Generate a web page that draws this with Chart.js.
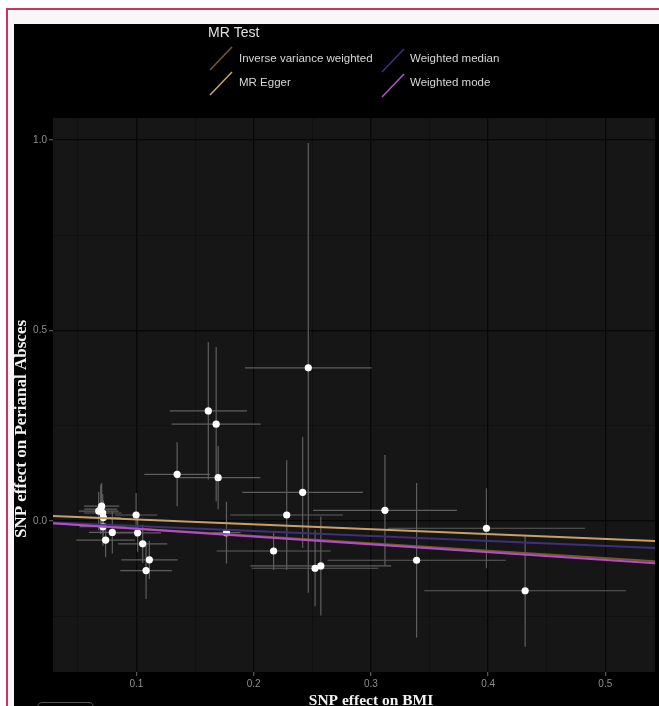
<!DOCTYPE html>
<html>
<head>
<meta charset="utf-8">
<script src="https://cdn.jsdelivr.net/npm/chart.js@4.4.0/dist/chart.umd.min.js"></script>
<style>
    html, body { margin: 0; padding: 0; width: 100%; height: 100%; overflow: hidden; background: #fff; }
    #paper { position: absolute; left: 8px; top: 10px; right: 0; bottom: 0; background: #f8f6f7; }
    #lineTop { position: absolute; left: 6px; top: 8px; right: 0; height: 2px; background: #c8365a; }
    #lineLeft { position: absolute; left: 6px; top: 8px; bottom: 0; width: 2px; background: #c8365a; }
    #dark { position: absolute; left: 14px; top: 24px; right: 0; bottom: 0; background: #000; }
    #btn { position: absolute; left: 37px; top: 702px; width: 55px; height: 12px; border: 1px solid #555; border-radius: 5px; }
    #plot { position: absolute; left: 0; top: 0; }
</style>
</head>
<body>
<div id="paper"></div>
<div id="lineTop"></div>
<div id="lineLeft"></div>
<div id="dark"></div>
<div id="btn"></div>
<canvas id="plot"></canvas>

<script>
// ========== 데이터 ==========
// SNP effect on BMI (x) / on perianal abscess (y), half-width of the error bars
const snpBetaBMI = [0.2466, 0.1613, 0.1680, 0.1347, 0.1697, 0.2418, 0.2282, 0.3120, 0.2524, 0.2573,
                    0.2170, 0.1768, 0.3390, 0.3986, 0.4316, 0.0997, 0.1010, 0.1053, 0.1110, 0.1082,
                    0.0794, 0.0737, 0.0714, 0.0703, 0.0678, 0.0712, 0.0695, 0.0718];
const snpBetaPA  = [0.402, 0.289, 0.254, 0.1225, 0.1137, 0.0753, 0.0157, 0.028, -0.124, -0.118,
                    -0.0787, -0.0306, -0.103, -0.019, -0.183, 0.0157, -0.031, -0.060, -0.102, -0.130,
                    -0.030, -0.050, -0.015, 0.039, 0.026, 0.021, 0.031, 0.009];
const errBMI     = [0.054, 0.033, 0.038, 0.028, 0.036, 0.0515, 0.048, 0.0615, 0.054, 0.060,
                    0.0487, 0.012, 0.076, 0.084, 0.086, 0.018, 0.020, 0.021, 0.024, 0.022,
                    0.020, 0.025, 0.020, 0.015, 0.017, 0.016, 0.014, 0.015];
const errPA      = [0.59, 0.18, 0.203, 0.084, 0.083, 0.146, 0.144, 0.145, 0.10, 0.13,
                    0.05, 0.081, 0.203, 0.105, 0.147, 0.058, 0.050, 0.050, 0.050, 0.075,
                    0.055, 0.045, 0.050, 0.060, 0.050, 0.050, 0.065, 0.045];

const methods         = ['Inverse variance weighted', 'MR Egger', 'Weighted median', 'Weighted mode'];
const methodIntercept = [0, 0.0168, 0, 0];
const methodSlope     = [-0.195, -0.128, -0.131, -0.205];
const methodColors    = ['#7a5532', '#c9a06a', '#3f2f7c', '#b24ec8'];

const xTicks = [0.1, 0.2, 0.3, 0.4, 0.5];
const xMinorTicks = [0.05, 0.15, 0.25, 0.35, 0.45];
const yTicks = [0.0, 0.5, 1.0];
const yMinorTicks = [-0.25, 0.25, 0.75];
const xRange = [0.0288, 0.5424];
const yRange = [-0.3963, 1.0577];

// ========== 데이터셋 ==========
const datasets = [];

// 회귀선 (MR 방법별)
methods.forEach((m, i) => {
    datasets.push({
        type: 'line',
        label: m,
        data: xRange.map(x => ({ x: x, y: methodIntercept[i] + methodSlope[i] * x })),
        borderColor: methodColors[i],
        borderWidth: 2,
        pointRadius: 0,
        order: 3 - i
    });
});

// 점
datasets.push({
    type: 'scatter',
    label: 'snp',
    data: snpBetaBMI.map((x, i) => ({ x: x, y: snpBetaPA[i] })),
    backgroundColor: '#ffffff',
    borderWidth: 0,
    pointRadius: 3.6,
    order: 10
});

// 오차 막대 (가로 + 세로)
snpBetaBMI.forEach((x, i) => {
    const y = snpBetaPA[i];
    datasets.push({
        type: 'line',
        label: 'err' + i,
        data: [
            { x: x - errBMI[i], y: y }, { x: x + errBMI[i], y: y }, { x: x, y: y },
            { x: x, y: y + errPA[i] }, { x: x, y: y - errPA[i] }
        ],
        borderColor: '#5e5e5e',
        borderWidth: 1.2,
        pointRadius: 0,
        tension: 0,
        order: 20
    });
});

// ========== 장식 플러그인 ==========
const decor = {
    id: 'decor',
    beforeDraw(chart) {
        const { ctx, chartArea: a } = chart;
        ctx.save();
        ctx.fillStyle = '#161616';
        ctx.fillRect(a.left, a.top, a.right - a.left, a.bottom - a.top);
        ctx.restore();
    },
    afterDraw(chart) {
        const ctx = chart.ctx;
        ctx.save();
        // axis titles
        ctx.fillStyle = '#f2f2f2';
        ctx.font = 'bold 17px "Liberation Serif"';
        ctx.textAlign = 'center';
        ctx.textBaseline = 'middle';
        ctx.translate(22, 429);
        ctx.rotate(-Math.PI / 2);
        ctx.fillText('SNP effect on Perianal Absces', 0, 0);
        ctx.setTransform(1, 0, 0, 1, 0, 0);
        ctx.font = 'bold 15.5px "Liberation Serif"';
        ctx.textBaseline = 'alphabetic';
        ctx.fillText('SNP effect on BMI', 371, 705);

        // legend
        ctx.textAlign = 'left';
        ctx.textBaseline = 'middle';
        ctx.fillStyle = '#e0e0e0';
        ctx.font = '14px "Liberation Sans"';
        ctx.fillText('MR Test', 208, 33);
        const keys = [[210, 70], [210, 95], [382, 72], [382, 97]];
        const labelPos = [[239, 59], [239, 83], [410, 59], [410, 83]];
        ctx.font = '11.5px "Liberation Sans"';
        methods.forEach((m, i) => {
            ctx.strokeStyle = methodColors[i];
            ctx.lineWidth = 1.6;
            ctx.beginPath();
            ctx.moveTo(keys[i][0], keys[i][1]);
            ctx.lineTo(keys[i][0] + 22, keys[i][1] - 23);
            ctx.stroke();
            ctx.fillStyle = '#d6d6d6';
            ctx.fillText(m, labelPos[i][0], labelPos[i][1]);
        });
        ctx.restore();
    }
};

function gridColor(major) {
    return ctx => (ctx.tick && major.includes(ctx.tick.value)) ? '#070707' : '#0e0e0e';
}
function gridWidth(major) {
    return ctx => (ctx.tick && major.includes(ctx.tick.value)) ? 1.3 : 0.7;
}
function tickMarkColor(major) {
    return ctx => (ctx.tick && major.includes(ctx.tick.value)) ? '#555555' : 'rgba(0,0,0,0)';
}

// 캔버스를 실제 창 크기에 맞춤
const canvas = document.getElementById('plot');
canvas.width = window.innerWidth;
canvas.height = window.innerHeight;
const bottomSpace = canvas.height - 672;

new Chart(canvas.getContext('2d'), {
    data: { datasets: datasets },
    options: {
        responsive: false,
        animation: false,
        events: [],
        layout: { padding: { top: 118, left: 0, right: 0, bottom: 0 } },
        plugins: { legend: { display: false }, tooltip: { enabled: false } },
        scales: {
            x: {
                type: 'linear',
                min: xRange[0],
                max: xRange[1],
                afterFit: s => { s.height = bottomSpace; s.paddingLeft = 0; s.paddingRight = 0; },
                afterBuildTicks: s => {
                    s.ticks = [...xMinorTicks, ...xTicks].sort((a, b) => a - b).map(v => ({ value: v }));
                },
                border: { display: false },
                grid: {
                    color: gridColor(xTicks),
                    lineWidth: gridWidth(xTicks),
                    tickColor: tickMarkColor(xTicks),
                    tickLength: 4
                },
                ticks: {
                    color: '#8e8e8e',
                    font: { family: 'Liberation Sans', size: 10 },
                    padding: 2,
                    autoSkip: false,
                    maxRotation: 0,
                    callback: v => xTicks.includes(v) ? v.toFixed(1) : ''
                }
            },
            y: {
                type: 'linear',
                min: yRange[0],
                max: yRange[1],
                afterFit: s => { s.width = 53; s.paddingTop = 0; s.paddingBottom = 0; },
                afterBuildTicks: s => {
                    s.ticks = [...yMinorTicks, ...yTicks].sort((a, b) => a - b).map(v => ({ value: v }));
                },
                border: { display: false },
                grid: {
                    color: gridColor(yTicks),
                    lineWidth: gridWidth(yTicks),
                    tickColor: tickMarkColor(yTicks),
                    tickLength: 4
                },
                ticks: {
                    color: '#8e8e8e',
                    font: { family: 'Liberation Sans', size: 10 },
                    padding: 2,
                    autoSkip: false,
                    callback: v => yTicks.includes(v) ? v.toFixed(1) : ''
                }
            }
        }
    },
    plugins: [decor]
});
</script>
</body>
</html>
